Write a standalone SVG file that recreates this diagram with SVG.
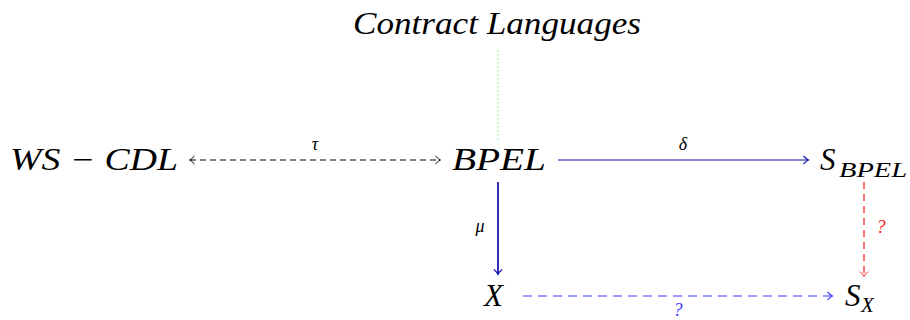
<svg xmlns="http://www.w3.org/2000/svg" width="910" height="320" viewBox="0 0 910 320">
<style>
.m{font-family:"Liberation Serif","DejaVu Serif",serif;font-style:italic;fill:#000}
.big{font-size:31px}
.sub{font-size:21px}
.lbl{font-size:18px}
.c{fill:none;stroke-width:1.2}
</style>
<defs>
<marker id="hk" viewBox="-6 -5 8 10" markerWidth="8" markerHeight="10" refX="0" refY="0" orient="auto-start-reverse" markerUnits="userSpaceOnUse">
<path d="M-4.5,-4 Q-1.5,-0.8 0.5,0 Q-1.5,0.8 -4.5,4" fill="none" stroke="#000" stroke-width="1"/>
</marker>
<marker id="hb" viewBox="-6 -5 8 10" markerWidth="8" markerHeight="10" refX="0" refY="0" orient="auto" markerUnits="userSpaceOnUse">
<path d="M-4.5,-4 Q-1.5,-0.8 0.5,0 Q-1.5,0.8 -4.5,4" fill="none" stroke="#0c0caa" stroke-width="1.1"/>
</marker>
<marker id="hlb" viewBox="-6 -5 8 10" markerWidth="8" markerHeight="10" refX="0" refY="0" orient="auto" markerUnits="userSpaceOnUse">
<path d="M-4.5,-4 Q-1.5,-0.8 0.5,0 Q-1.5,0.8 -4.5,4" fill="none" stroke="#3a3aff" stroke-width="1.1"/>
</marker>
<marker id="hr" viewBox="-6 -5 8 10" markerWidth="8" markerHeight="10" refX="0" refY="0" orient="auto" markerUnits="userSpaceOnUse">
<path d="M-4.5,-4 Q-1.5,-0.8 0.5,0 Q-1.5,0.8 -4.5,4" fill="none" stroke="#ff1a1a" stroke-width="1"/>
</marker>
</defs>
<g id="connectors">
<line class="c" x1="190" y1="160" x2="440" y2="160" stroke="#000" stroke-dasharray="6,4" marker-start="url(#hk)" marker-end="url(#hk)"/>
<text class="m lbl" x="315" y="150" text-anchor="middle">τ</text>
<line class="c" x1="558" y1="160" x2="808" y2="160" stroke="#0c0caa" stroke-width="1.4" marker-end="url(#hb)"/>
<text class="m lbl" x="683" y="150" text-anchor="middle">δ</text>
<line x1="498" y1="50" x2="498" y2="142" stroke="#80ff80" stroke-width="1.2" stroke-dasharray="1.5,2.5"/>
<line x1="498" y1="182" x2="498" y2="274" stroke="#0c0caa" stroke-width="1.7" marker-end="url(#hb)"/>
<text class="m lbl" x="480" y="232" text-anchor="middle">μ</text>
<line class="c" x1="864" y1="182" x2="864" y2="276" stroke="#ff1a1a" stroke-dasharray="7,5" marker-end="url(#hr)"/>
<text class="m lbl" x="881" y="233" text-anchor="middle" style="fill:#ff1a1a">?</text>
<line class="c" x1="523" y1="296" x2="832" y2="296" stroke="#3a3aff" stroke-width="1.4" stroke-dasharray="9,6" marker-end="url(#hlb)"/>
<text class="m lbl" x="678" y="316" text-anchor="middle" style="fill:#3a3aff">?</text>
</g>
<g id="contract"><text class="m big" x="353" y="34" textLength="288" lengthAdjust="spacingAndGlyphs">Contract Languages</text></g>
<g id="wscdl"><text class="m big" x="10" y="170" textLength="168" lengthAdjust="spacingAndGlyphs">WS − CDL</text></g>
<g id="bpel"><text class="m big" x="452" y="170" textLength="94" lengthAdjust="spacingAndGlyphs">BPEL</text></g>
<g id="sbpel"><text class="m big" x="820" y="170">S</text><text class="m sub" x="839" y="177" textLength="68" lengthAdjust="spacingAndGlyphs">BPEL</text></g>
<g id="x"><text class="m big" x="484" y="306">X</text></g>
<g id="sx"><text class="m big" x="845" y="306">S</text><text class="m sub" x="861" y="312">X</text></g>
</svg>
